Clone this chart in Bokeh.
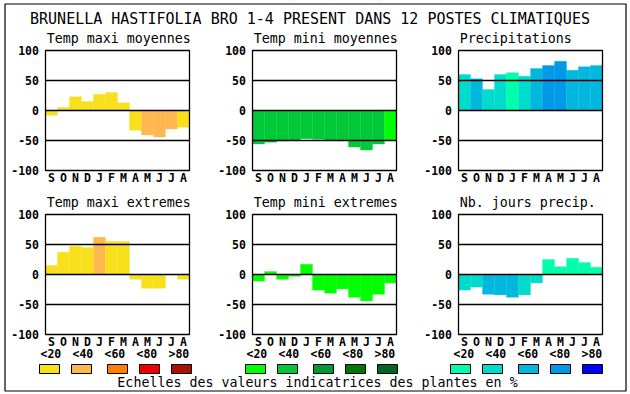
from bokeh.plotting import figure
from bokeh.models import Range1d, ColumnDataSource
from bokeh.embed import file_html
from bokeh.resources import INLINE
from bokeh.core.properties import value

# ---------------- data ----------------
months = ["S", "O", "N", "D", "J", "F", "M", "A", "M", "J", "J", "A"]
ticks = [100, 50, 0, -50, -100]
gridlines = [50, 0, -50]
legend_labels = ["<20", "<40", "<60", "<80", ">80"]

warm_colors = ["#f8e01c", "#ffb850", "#ff8000", "#ee0000", "#aa1100"]
green_colors = ["#00ff00", "#00c837", "#009933", "#007700", "#006622"]
blue_colors = ["#00ffaa", "#00dccc", "#00b8dd", "#0099e8", "#0000ff"]

title_main = "BRUNELLA HASTIFOLIA BRO 1-4 PRESENT DANS  12 POSTES CLIMATIQUES"
footer = "Echelles des valeurs indicatrices des plantes en %"

tmax_moy = [-8, 5, 23, 15, 27, 30, 13, -33, -41, -44, -31, -28]
tmax_moy_lvl = [0, 0, 0, 0, 0, 0, 0, 0, 1, 1, 1, 0]

tmin_moy = [-56, -53, -51, -50, -47, -48, -50, -50, -61, -66, -56, -50]
tmin_moy_lvl = [1, 1, 1, 1, 1, 1, 1, 1, 1, 1, 1, 0]

precip = [60, 53, 35, 60, 63, 57, 70, 75, 82, 67, 73, 75]
precip_lvl = [1, 2, 1, 1, 0, 1, 2, 3, 3, 2, 2, 2]

tmax_ext = [15, 37, 47, 45, 62, 55, 55, -8, -23, -23, 0, -8]
tmax_ext_lvl = [0, 0, 0, 0, 1, 0, 0, 0, 0, 0, 0, 0]

tmin_ext = [-11, 5, -8, -3, 17, -26, -31, -24, -38, -44, -33, -14]
tmin_ext_lvl = [0, 0, 0, 0, 0, 0, 0, 0, 0, 0, 0, 0]

nb_jours = [-26, -21, -33, -34, -38, -34, -14, 25, 13, 27, 20, 12]
nb_jours_lvl = [1, 1, 2, 2, 2, 1, 1, 0, 0, 0, 0, 0]

panels = [
    ("Temp maxi moyennes", tmax_moy, tmax_moy_lvl, warm_colors, 0, 0),
    ("Temp mini moyennes", tmin_moy, tmin_moy_lvl, green_colors, 1, 0),
    ("Precipitations", precip, precip_lvl, blue_colors, 2, 0),
    ("Temp maxi extremes", tmax_ext, tmax_ext_lvl, warm_colors, 0, 1),
    ("Temp mini extremes", tmin_ext, tmin_ext_lvl, green_colors, 1, 1),
    ("Nb. jours precip.", nb_jours, nb_jours_lvl, blue_colors, 2, 1),
]

# ---------------- layout ----------------
W, H = 630, 394
RX0, RX1, RY0, RY1 = 0, 630, 0, 394     # layout coordinate frame (pixels)
col_edges = [(45, 189), (252, 396), (458, 602)]
row_edges = [(50, 170), (214, 334)]

FONT = value("DejaVu Sans Mono")


def xr(left, right):
    gx0 = (left - RX0) / (RX1 - RX0)
    gx1 = (right - RX0) / (RX1 - RX0)
    span = len(months) / (gx1 - gx0)
    s = -gx0 * span
    return Range1d(s, s + span)


def yr(top, bottom):
    f0 = (RY1 - top) / (RY1 - RY0)
    f1 = (RY1 - bottom) / (RY1 - RY0)
    span = (ticks[0] - ticks[-1]) / (f0 - f1)
    s = ticks[0] - f0 * span
    return Range1d(s, s + span)


p = figure(width=W, height=H, x_range=Range1d(RX0, RX1), y_range=Range1d(RY1, RY0),
           x_axis_type=None, y_axis_type=None, toolbar_location=None,
           output_backend="svg", min_border=0, outline_line_color=None,
           background_fill_color="white", border_fill_color="white")

p.extra_x_ranges = {f"c{i}": xr(*e) for i, e in enumerate(col_edges)}
p.extra_y_ranges = {f"r{i}": yr(*e) for i, e in enumerate(row_edges)}

# outer frame
p.quad(left=4.5, right=625.5, top=3.5, bottom=390.5, fill_color=None,
       line_color="black", line_width=1.2)

n = len(months)
for title, vals, lvls, pal, c, r in panels:
    xn, yn = f"c{c}", f"r{r}"
    src = ColumnDataSource(dict(x=[i + 0.5 for i in range(n)], top=vals,
                                color=[pal[l] for l in lvls]))
    p.vbar(x="x", top="top", bottom=0, width=1.0, fill_color="color",
           line_color="color", line_width=0.3, source=src,
           x_range_name=xn, y_range_name=yn)
    p.segment(x0=0, x1=n, y0=gridlines, y1=gridlines, line_color="black",
              line_width=1.3, x_range_name=xn, y_range_name=yn)
    p.quad(left=0, right=n, bottom=ticks[-1], top=ticks[0], fill_color=None,
           line_color="black", line_width=1.3, x_range_name=xn, y_range_name=yn)
    p.text(x=-0.55, y=ticks, text=[str(t) for t in ticks], text_align="right",
           text_baseline="middle", text_font=FONT, text_font_style="bold",
           text_font_size="11.5px", text_color="black",
           x_range_name=xn, y_range_name=yn)
    p.text(x=[i + 0.5 for i in range(n)], y=-112, text=months, text_align="center",
           text_baseline="middle", text_font=FONT, text_font_style="bold",
           text_font_size="11.5px", text_color="black",
           x_range_name=xn, y_range_name=yn)
    p.text(x=0.1, y=120, text=[title], text_align="left", text_baseline="middle",
           text_font=FONT, text_font_size="13.3px", text_color="black",
           x_range_name=xn, y_range_name=yn)

# main title and footer
p.text(x=[314], y=[18], text=[title_main], text_align="center", text_baseline="middle",
       text_font=FONT, text_font_size="15px", text_color="black")
p.text(x=[317], y=[382], text=[footer], text_align="center", text_baseline="middle",
       text_font=FONT, text_font_size="13.3px", text_color="black")

# legends
label_starts = [40, 246, 453]
box_starts = [39, 245, 450]
box_offsets = [0, 32, 68, 100, 132]
palettes = [warm_colors, green_colors, blue_colors]
for g in range(3):
    p.text(x=[label_starts[g] + 32 * k for k in range(5)], y=353, text=legend_labels,
           text_align="left", text_baseline="middle", text_font=FONT,
           text_font_style="bold", text_font_size="11.5px", text_color="black")
    lefts = [box_starts[g] + o for o in box_offsets]
    p.quad(left=lefts, right=[l + 20 for l in lefts], top=364, bottom=373,
           fill_color=palettes[g], line_color="black", line_width=1)

open("out.html", "w").write(file_html(p, INLINE))
